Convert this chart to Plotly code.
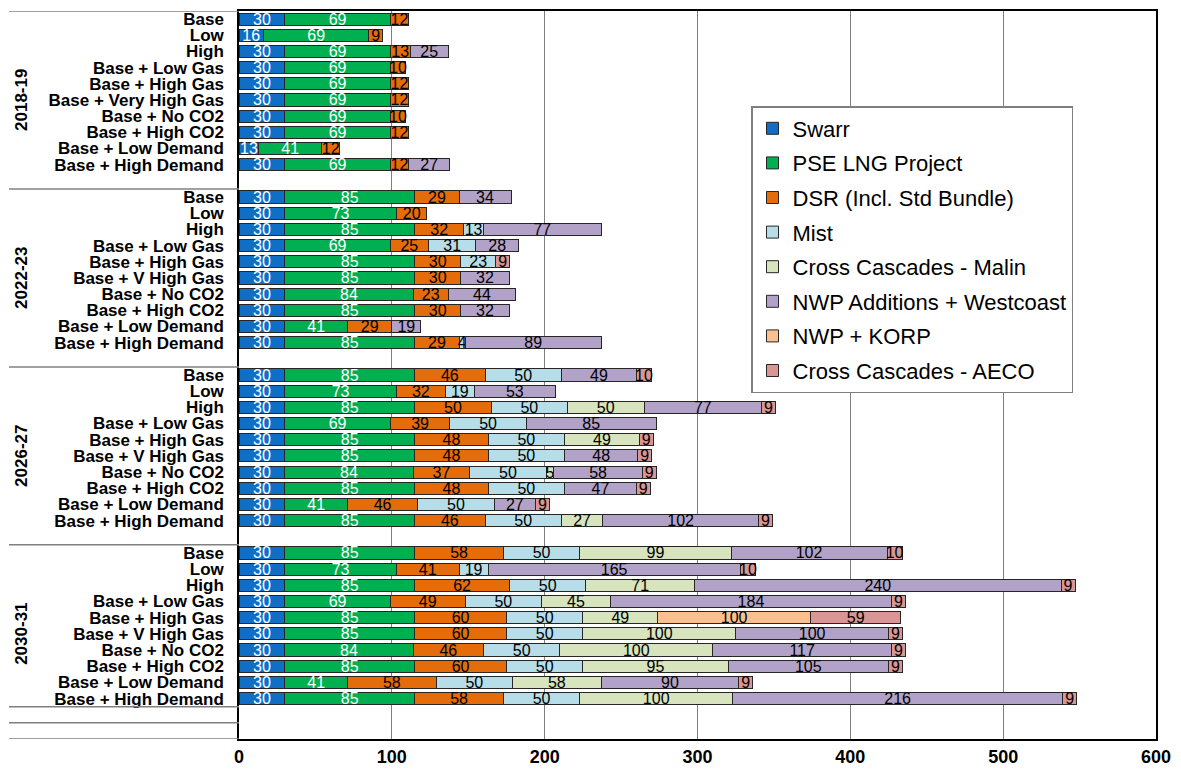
import plotly.graph_objects as go

# Scenario rows (2018-19 uses the long "Very High Gas" name)
years = ["2018-19", "2022-23", "2026-27", "2030-31"]
scenarios_first = ["Base", "Low", "High", "Base + Low Gas", "Base + High Gas",
                   "Base + Very High Gas", "Base + No CO2", "Base + High CO2",
                   "Base + Low Demand", "Base + High Demand"]
scenarios_later = ["Base", "Low", "High", "Base + Low Gas", "Base + High Gas",
                   "Base + V High Gas", "Base + No CO2", "Base + High CO2",
                   "Base + Low Demand", "Base + High Demand"]

N = None
# Resource values per scenario, four blocks of ten (one block per year)
swarr = [30, 16, 30, 30, 30, 30, 30, 30, 13, 30,
         30, 30, 30, 30, 30, 30, 30, 30, 30, 30,
         30, 30, 30, 30, 30, 30, 30, 30, 30, 30,
         30, 30, 30, 30, 30, 30, 30, 30, 30, 30]
pse_lng = [69, 69, 69, 69, 69, 69, 69, 69, 41, 69,
           85, 73, 85, 69, 85, 85, 84, 85, 41, 85,
           85, 73, 85, 69, 85, 85, 84, 85, 41, 85,
           85, 73, 85, 69, 85, 85, 84, 85, 41, 85]
dsr = [12, 9, 13, 10, 12, 12, 10, 12, 12, 12,
       29, 20, 32, 25, 30, 30, 23, 30, 29, 29,
       46, 32, 50, 39, 48, 48, 37, 48, 46, 46,
       58, 41, 62, 49, 60, 60, 46, 60, 58, 58]
mist = [N, N, N, N, N, N, N, N, N, N,
        N, N, 13, 31, 23, N, N, N, N, 4,
        50, 19, 50, 50, 50, 50, 50, 50, 50, 50,
        50, 19, 50, 50, 50, 50, 50, 50, 50, 50]
cc_malin = [N, N, N, N, N, N, N, N, N, N,
            N, N, N, N, N, N, N, N, N, N,
            N, N, 50, N, 49, N, 5, N, N, 27,
            99, N, 71, 45, 49, 100, 100, 95, 58, 100]
nwp_westcoast = [N, N, 25, N, N, N, N, N, N, 27,
                 34, N, 77, 28, N, 32, 44, 32, 19, 89,
                 49, 53, 77, 85, N, 48, 58, 47, 27, 102,
                 102, 165, 240, 184, N, 100, 117, 105, 90, 216]
nwp_korp = [N] * 34 + [100] + [N] * 5
cc_aeco = [N, N, N, N, N, N, N, N, N, N,
           N, N, N, N, 9, N, N, N, N, N,
           10, N, 9, N, 9, 9, 9, 9, 9, 9,
           10, 10, 9, 9, 59, 9, 9, 9, 9, 9]

series = [
    ("Swarr", swarr, "#0F6FC6", "white"),
    ("PSE LNG Project", pse_lng, "#00B050", "white"),
    ("DSR (Incl. Std Bundle)", dsr, "#E46C0A", "black"),
    ("Mist", mist, "#B7DEE8", "black"),
    ("Cross Cascades - Malin", cc_malin, "#D7E4BD", "black"),
    ("NWP Additions + Westcoast", nwp_westcoast, "#B3A2C7", "black"),
    ("NWP + KORP", nwp_korp, "#FAC090", "black"),
    ("Cross Cascades - AECO", cc_aeco, "#D99694", "black"),
]

# Each year block has ten scenario rows plus one blank spacer row
rows = [g * 11 + i for g in range(len(years)) for i in range(10)]
ticktext = [s for g in range(len(years))
            for s in (scenarios_first if g == 0 else scenarios_later)]
n_rows = 45

fig = go.Figure()
for k, (name, vals, color, tcolor) in enumerate(series):
    fig.add_trace(go.Bar(
        y=rows, x=vals, orientation="h", name=name,
        marker=dict(color=color, line=dict(color="#262626", width=1)),
        text=[("" if v is None else str(v)) for v in vals],
        textposition="inside", insidetextanchor="middle", textangle=0,
        textfont=dict(family="Arial", size=16, color=tcolor),
        legendgroup=f"g{k}", hoverinfo="skip",
    ))

# Category separators on the left side of the axis
shapes = []
x_left = (9 - 239) / 917
for yb in [-0.5, 10.5, 21.5, 32.5, 42.5, 43.5, 44.5]:
    shapes.append(dict(type="line", xref="paper", yref="y",
                       x0=x_left, x1=0, y0=yb, y1=yb,
                       line=dict(color="#808080", width=1.5)))

annotations = []
for g, yr in enumerate(years):
    annotations.append(dict(
        text=f"<b>{yr}</b>", xref="paper", yref="y",
        x=(22 - 239) / 917, y=g * 11 + 5, textangle=-90,
        showarrow=False, xanchor="center", yanchor="middle",
        font=dict(family="Arial", size=17, color="black")))

fig.update_layout(
    barmode="stack", bargap=0.25,
    width=1181, height=772,
    margin=dict(l=239, r=25, t=11, b=33, autoexpand=False),
    paper_bgcolor="white", plot_bgcolor="white",
    shapes=shapes, annotations=annotations,
    uniformtext=dict(mode="show", minsize=16),
    legend=dict(
        x=(751 - 239) / 917, y=1 - (106 - 11) / 728,
        xanchor="left", yanchor="top",
        bgcolor="white", bordercolor="#7f7f7f", borderwidth=1.5,
        font=dict(family="Arial", size=22, color="black"),
        tracegroupgap=3, traceorder="grouped",
    ),
    xaxis=dict(
        range=[0, 600], tickvals=[0, 100, 200, 300, 400, 500, 600],
        showgrid=True, gridcolor="#7f7f7f", gridwidth=1.2,
        zeroline=False, showline=True, linecolor="black", linewidth=2,
        mirror=True, ticks="", automargin=False,
        tickfont=dict(family="Arial", size=18, color="black", weight="bold"),
    ),
    yaxis=dict(
        range=[n_rows - 0.5, -0.5], tickvals=rows,
        ticktext=ticktext, automargin=False,
        showgrid=False, zeroline=False, showline=True,
        linecolor="black", linewidth=1.5, mirror=True, ticks="",
        ticklabelstandoff=10,
        tickfont=dict(family="Arial", size=17, color="black", weight="bold"),
    ),
)

fig.write_html("out.html")
